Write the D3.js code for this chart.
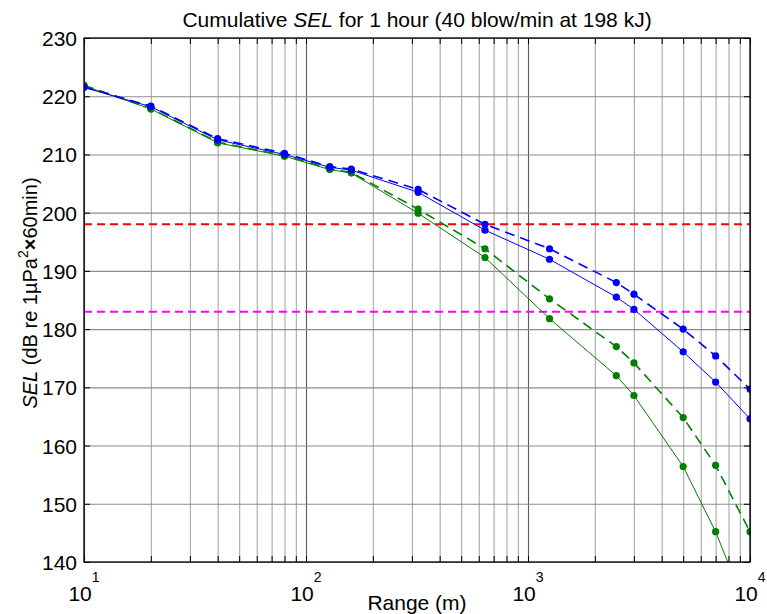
<!DOCTYPE html>
<html>
<head>
<meta charset="utf-8">
<script src="https://cdn.jsdelivr.net/npm/d3@7"></script>
<style>
  html, body { margin: 0; padding: 0; background: #fff; }
  svg { display: block; font-family: "Liberation Sans", Arial, sans-serif; }
</style>
</head>
<body>
<svg id="chart" width="767" height="614"></svg>
<script>
// Range from the pile (m)
const ranges = [10, 20, 40, 80, 128, 160, 320, 640, 1250, 2500, 3000, 5000, 7000, 10000];

// Cumulative SEL curves (dB re 1 µPa²·60 min)
const blueDashed  = [221.6, 218.3, 212.7, 210.2, 207.9, 207.5, 204.0, 198.0, 193.8, 188.0, 186.0, 180.0, 175.4, 169.7];
const blueSolid   = [221.5, 218.2, 212.5, 210.0, 207.8, 207.3, 203.5, 197.0, 192.0, 185.5, 183.4, 176.1, 170.9, 164.6];
const greenDashed = [221.9, 217.9, 212.1, 209.8, 207.5, 206.9, 200.6, 193.8, 185.2, 177.0, 174.2, 164.8, 156.6, 145.2];
const greenSolid  = [221.8, 217.8, 212.0, 209.7, 207.4, 206.8, 199.9, 192.3, 181.8, 172.0, 168.6, 156.4, 145.2, 130.5];

// Threshold levels (dB)
const thresholds = [198, 183];

const yTicks = [140, 150, 160, 170, 180, 190, 200, 210, 220, 230];
const xDecades = [10, 100, 1000, 10000];

(function draw() {
const svg = d3.select("#chart");
const pL = 84, pR = 750, pT = 38, pB = 562;
const W = pR - pL, H = pB - pT;
const FS = 21;

const x = d3.scaleLog().domain([10, 10000]).range([pL, pR]);
const y = d3.scaleLinear().domain([140, 230]).range([pB, pT]);

// minor positions for log grid: 2..9 × each decade
const minorTicks = [];
[10, 100, 1000].forEach(d => { for (let k = 2; k <= 9; k++) minorTicks.push(d * k); });

// vertical minor grid
svg.append("g")
  .attr("transform", `translate(0,${pB})`)
  .call(d3.axisBottom(x).tickValues(minorTicks).tickSize(-H).tickFormat(""))
  .call(g => g.select(".domain").remove())
  .call(g => g.selectAll("line").attr("stroke", "#a8a8a8").attr("stroke-width", 1.1));

// vertical decade grid
svg.append("g")
  .attr("transform", `translate(0,${pB})`)
  .call(d3.axisBottom(x).tickValues(xDecades).tickSize(-H).tickFormat(""))
  .call(g => g.select(".domain").remove())
  .call(g => g.selectAll("line").attr("stroke", "#5a5a5a").attr("stroke-width", 1.1));

// horizontal grid
svg.append("g")
  .attr("transform", `translate(${pL},0)`)
  .call(d3.axisLeft(y).tickValues(yTicks).tickSize(-W).tickFormat(""))
  .call(g => g.select(".domain").remove())
  .call(g => g.selectAll("line").attr("stroke", "#8c8c8c").attr("stroke-width", 1.1));

// clip for data
svg.append("defs").append("clipPath").attr("id", "plotClip")
  .append("rect").attr("x", pL).attr("y", pT).attr("width", W).attr("height", H);

const plot = svg.append("g").attr("clip-path", "url(#plotClip)");

// threshold lines
const thrColors = ["#ff0000", "#ff00ff"];
thresholds.forEach((t, i) => {
  plot.append("line")
    .attr("x1", pL).attr("x2", pR)
    .attr("y1", y(t)).attr("y2", y(t))
    .attr("stroke", thrColors[i]).attr("stroke-width", 2)
    .attr("stroke-dasharray", "8,5");
});

const series = [
  { vals: greenSolid,  color: "#008000", dash: null,   width: 1 },
  { vals: greenDashed, color: "#008000", dash: "10,6", width: 1.6 },
  { vals: blueSolid,   color: "#0000ff", dash: null,   width: 1 },
  { vals: blueDashed,  color: "#0000ff", dash: "10,6", width: 1.6 }
];

const line = d3.line().x((d, i) => x(ranges[i])).y(d => y(d));

series.forEach(s => {
  plot.append("path")
    .attr("d", line(s.vals))
    .attr("fill", "none")
    .attr("stroke", s.color)
    .attr("stroke-width", s.width)
    .attr("stroke-dasharray", s.dash);
  plot.selectAll(null).data(s.vals).enter().append("circle")
    .attr("cx", (d, i) => x(ranges[i]))
    .attr("cy", d => y(d))
    .attr("r", 3.6)
    .attr("fill", s.color);
});

// axes with inward ticks
const tickStyle = g => g.selectAll(".tick line").attr("stroke", "#000");
const allX = xDecades.concat(minorTicks);

svg.append("g")
  .attr("transform", `translate(0,${pB})`)
  .call(d3.axisBottom(x).tickValues(allX).tickSize(-6).tickFormat(""))
  .call(g => g.select(".domain").remove())
  .call(tickStyle);
svg.append("g")
  .attr("transform", `translate(0,${pT})`)
  .call(d3.axisTop(x).tickValues(allX).tickSize(-6).tickFormat(""))
  .call(g => g.select(".domain").remove())
  .call(tickStyle);
svg.append("g")
  .attr("transform", `translate(${pL},0)`)
  .call(d3.axisLeft(y).tickValues(yTicks).tickSize(-6).tickFormat(""))
  .call(g => g.select(".domain").remove())
  .call(tickStyle);
svg.append("g")
  .attr("transform", `translate(${pR},0)`)
  .call(d3.axisRight(y).tickValues(yTicks).tickSize(-6).tickFormat(""))
  .call(g => g.select(".domain").remove())
  .call(tickStyle);

// frame
svg.append("rect").attr("x", pL).attr("y", pT).attr("width", W).attr("height", H)
  .attr("fill", "none").attr("stroke", "#000").attr("stroke-width", 1.3);

// y tick labels
svg.append("g").selectAll("text").data(yTicks).enter().append("text")
  .attr("x", pL - 7).attr("y", d => y(d) + 8)
  .attr("text-anchor", "end").attr("font-size", FS).attr("fill", "#000")
  .text(d => d);

// x tick labels: 10 with raised exponent, centred on the tick
const xl = svg.append("g").selectAll("text").data(xDecades).enter().append("text")
  .attr("x", d => x(d)).attr("y", 601).attr("text-anchor", "middle")
  .attr("font-size", FS).attr("fill", "#000");
xl.append("tspan").text("10");
xl.append("tspan").attr("font-size", 14).attr("dy", -19)
  .text(d => Math.round(Math.log10(d)));

// title
const title = svg.append("text")
  .attr("x", (pL + pR) / 2).attr("y", 27)
  .attr("text-anchor", "middle").attr("font-size", FS).attr("fill", "#000");
title.append("tspan").text("Cumulative ");
title.append("tspan").attr("font-style", "italic").text("SEL");
title.append("tspan").text(" for 1 hour (40 blow/min at 198 kJ)");

// x label
svg.append("text")
  .attr("x", (pL + pR) / 2).attr("y", 610)
  .attr("text-anchor", "middle").attr("font-size", FS).attr("fill", "#000")
  .text("Range (m)");

// y label
const yl = svg.append("text")
  .attr("transform", `translate(37,293) rotate(-90)`)
  .attr("text-anchor", "middle").attr("font-size", 20).attr("fill", "#000");
yl.append("tspan").attr("font-style", "italic").text("SEL");
yl.append("tspan").text(" (dB re 1\u00B5Pa");
yl.append("tspan").attr("font-size", 14).attr("dy", -9).text("2");
yl.append("tspan").attr("dy", 9).attr("font-weight", "bold").text("\u00D7");
yl.append("tspan").text("60min)");
})();
</script>
</body>
</html>
